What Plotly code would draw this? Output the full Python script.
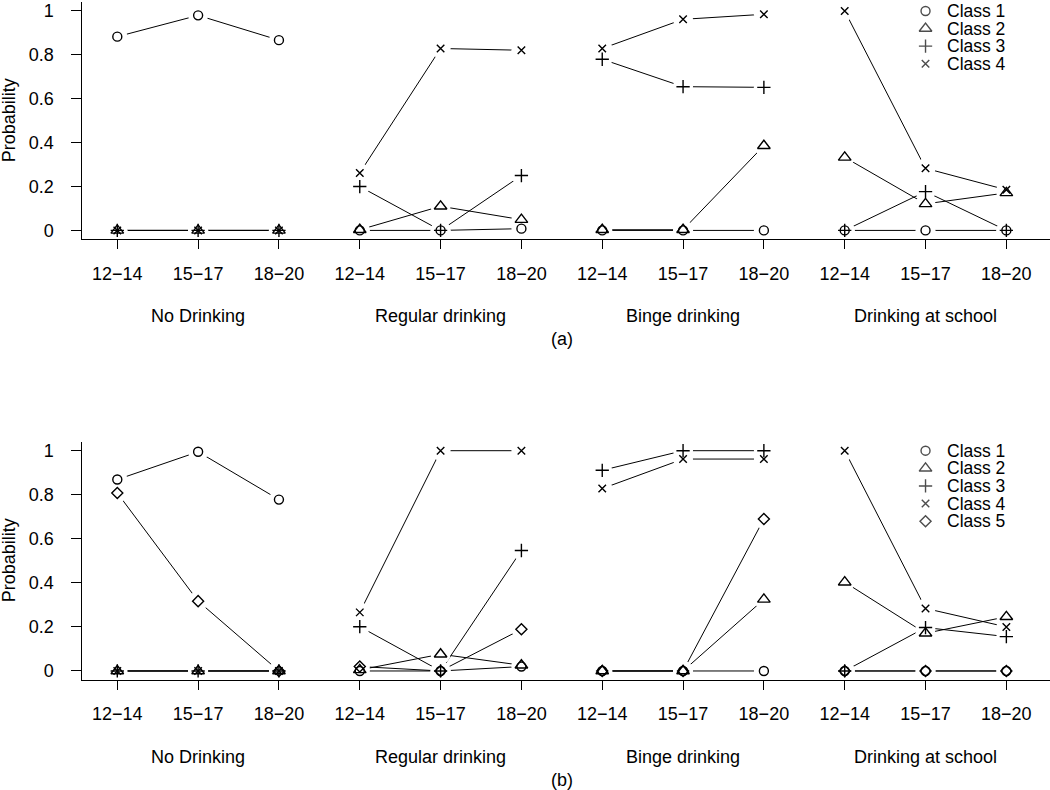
import plotly.graph_objects as go

# categories
ages = ["12\u221214", "15\u221217", "18\u221220"]
groups = ["No Drinking", "Regular drinking", "Binge drinking", "Drinking at school"]

# panel (a): probability per class, 4 groups x 3 age bands
a_class1 = [0.883, 0.980, 0.867, 0.0, 0.0, 0.008, 0.0, 0.0, 0.0, 0.0, 0.0, 0.0]
a_class2 = [0.0, 0.0, 0.0, 0.003, 0.110, 0.049, 0.003, 0.003, 0.386, 0.333, 0.121, 0.171]
a_class3 = [0.0, 0.0, 0.0, 0.200, 0.0, 0.250, 0.780, 0.655, 0.652, 0.0, 0.177, 0.0]
a_class4 = [0.0, 0.0, 0.0, 0.262, 0.829, 0.821, 0.829, 0.962, 0.985, 1.0, 0.283, 0.185]

# panel (b)
b_class1 = [0.869, 0.995, 0.778, 0.0, 0.0, 0.020, 0.0, 0.0, 0.0, 0.0, 0.0, 0.0]
b_class2 = [0.0, 0.0, 0.0, 0.005, 0.076, 0.026, 0.0, 0.0, 0.325, 0.403, 0.171, 0.246]
b_class3 = [0.0, 0.0, 0.0, 0.201, 0.0, 0.547, 0.911, 1.0, 1.0, 0.0, 0.197, 0.156]
b_class4 = [0.0, 0.0, 0.0, 0.266, 1.0, 1.0, 0.828, 0.962, 0.962, 1.0, 0.284, 0.200]
b_class5 = [0.808, 0.317, 0.0, 0.020, 0.0, 0.189, 0.0, 0.0, 0.690, 0.0, 0.0, 0.0]

panels = [
    ("x", "y", "(a)", [a_class1, a_class2, a_class3, a_class4]),
    ("x2", "y2", "(b)", [b_class1, b_class2, b_class3, b_class4, b_class5]),
]

symbols = ["circle-open", "triangle-up-open", "cross-thin-open", "x-thin-open", "diamond-open"]
sizes = [9, 11, 9.5, 7.5, 8.5]
MW = 1.4

W, H = 1050, 790
FONT = "Liberation Sans, Arial, sans-serif"
FS = 18


def py(px):
    return 1 - px / H


# pixel extents of each panel (top, bottom of the plot box)
boxes = [(1.2, 238.8), (442.0, 680.5)]


def split_groups(vals):
    xs, ys = [], []
    for g in range(len(groups)):
        for k in range(len(ages)):
            i = g * len(ages) + k
            xs.append(i)
            ys.append(vals[i])
        xs.append(None)
        ys.append(None)
    return xs, ys


fig = go.Figure()

# lines first, then white halos (R type="b" gaps), then symbols
for xa, ya, _, series in panels:
    for vals in series:
        xs, ys = split_groups(vals)
        fig.add_trace(go.Scatter(x=xs, y=ys, xaxis=xa, yaxis=ya, mode="lines",
                                 line=dict(color="black", width=1), showlegend=False,
                                 hoverinfo="skip"))
for xa, ya, _, series in panels:
    for vals in series:
        fig.add_trace(go.Scatter(x=list(range(len(vals))), y=vals, xaxis=xa, yaxis=ya,
                                 mode="markers", marker=dict(color="white", size=20, line=dict(width=0)),
                                 showlegend=False, hoverinfo="skip"))
for xa, ya, _, series in panels:
    for c, vals in enumerate(series):
        fig.add_trace(go.Scatter(x=list(range(len(vals))), y=vals, xaxis=xa, yaxis=ya,
                                 mode="markers", name="Class %d" % (c + 1),
                                 marker=dict(symbol=symbols[c], size=sizes[c], color="black",
                                             line=dict(color="black", width=MW)),
                                 showlegend=False))

# legends (top right of each panel)
annotations = []
for p, (xa, ya, tag, series) in enumerate(panels):
    n = len(series)
    leg_y = [1.0 - 0.08 * k for k in range(n)]
    fig.add_trace(go.Scatter(x=[10] * n, y=leg_y, xaxis=xa, yaxis=ya, mode="markers",
                             marker=dict(symbol=symbols[:n], size=sizes[:n], color="black",
                                         line=dict(color="black", width=MW)),
                             showlegend=False, hoverinfo="skip", cliponaxis=False))
    for k in range(n):
        annotations.append(dict(x=10.235, y=leg_y[k], xref=xa, yref=ya, text="Class %d" % (k + 1),
                                showarrow=False, xanchor="left", yanchor="middle",
                                font=dict(family=FONT, size=17.5, color="black")))

    top, bot = boxes[p]
    for g, name in enumerate(groups):
        annotations.append(dict(x=g * 3 + 1, y=py(bot + 77), xref=xa, yref="paper", text=name,
                                showarrow=False, xanchor="center", yanchor="middle",
                                font=dict(family=FONT, size=FS, color="black")))
    annotations.append(dict(x=5.5, y=py(bot + 100), xref=xa, yref="paper", text=tag,
                            showarrow=False, xanchor="center", yanchor="middle",
                            font=dict(family=FONT, size=FS, color="black")))
    annotations.append(dict(x=8.5 / W, y=py((top + bot) / 2), xref="paper", yref="paper",
                            text="Probability", textangle=-90, showarrow=False,
                            xanchor="center", yanchor="middle",
                            font=dict(family=FONT, size=FS, color="black")))

x_common = dict(range=[-0.433, 11.54], tickvals=list(range(12)), ticktext=ages * 4,
                showline=True, linecolor="black", linewidth=1, ticks="outside", ticklen=9,
                tickwidth=1, tickcolor="black", showgrid=False, zeroline=False,
                ticklabelstandoff=9, tickfont=dict(family=FONT, size=FS, color="black"),
                domain=[82.3 / W, 1.0])
y_common = dict(range=[-0.04, 1.04], tickvals=[0, 0.2, 0.4, 0.6, 0.8, 1],
                ticktext=["0", "0.2", "0.4", "0.6", "0.8", "1"],
                showline=True, linecolor="black", linewidth=1, ticks="outside", ticklen=10,
                tickwidth=1, tickcolor="black", showgrid=False, zeroline=False,
                ticklabelstandoff=14, tickfont=dict(family=FONT, size=FS, color="black"))

fig.update_layout(
    width=W, height=H, autosize=False,
    margin=dict(l=0, r=0, t=0, b=0),
    paper_bgcolor="white", plot_bgcolor="white",
    xaxis=dict(x_common, anchor="y"),
    yaxis=dict(y_common, anchor="x", domain=[py(boxes[0][1]), py(boxes[0][0])]),
    xaxis2=dict(x_common, anchor="y2"),
    yaxis2=dict(y_common, anchor="x2", domain=[py(boxes[1][1]), py(boxes[1][0])]),
    annotations=annotations,
    showlegend=False,
)

# drop the default 8px body margin so the figure sits at the window origin
fig.write_html("out.html", config={"displayModeBar": False, "staticPlot": True},
               post_script="document.body.style.margin='0';document.body.style.overflow='hidden';")
